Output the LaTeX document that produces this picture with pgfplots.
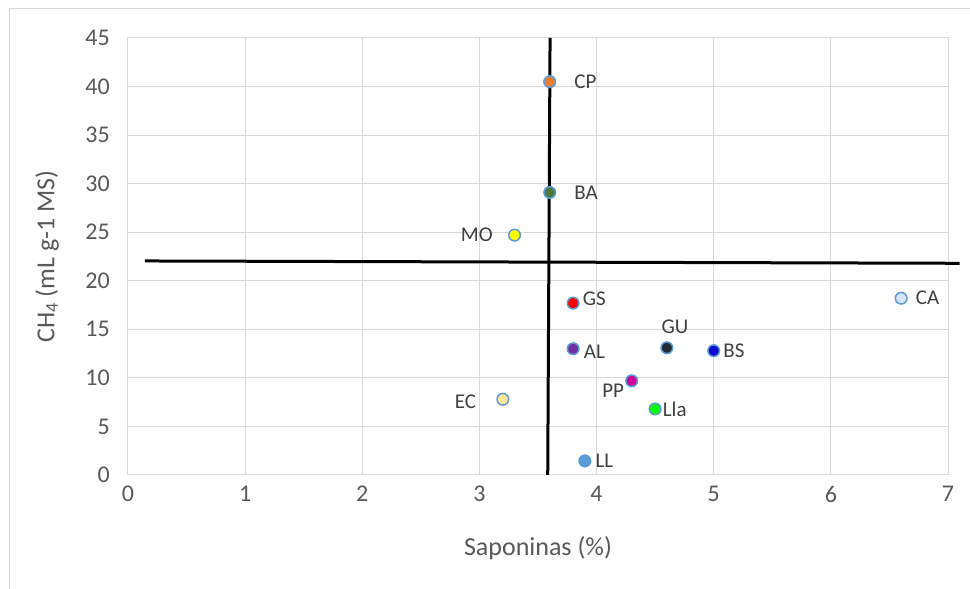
\documentclass[border=0pt]{standalone}
\usepackage{fontspec}
\setmainfont{Carlito}
\usepackage{pgfplots}
\pgfplotsset{compat=1.18}
\definecolor{gridc}{HTML}{D9D9D9}
\definecolor{txt}{HTML}{595959}
\definecolor{lbl}{HTML}{404040}
\definecolor{mk}{HTML}{5B9BD5}
\definecolor{cCP}{HTML}{ED7D31}
\definecolor{cBA}{HTML}{4E7A3A}
\definecolor{cMO}{HTML}{FFFF00}
\definecolor{cGS}{HTML}{FF0000}
\definecolor{cAL}{HTML}{7030A0}
\definecolor{cGU}{HTML}{222A35}
\definecolor{cBS}{HTML}{0A0ACC}
\definecolor{cPP}{HTML}{CC0099}
\definecolor{cLla}{HTML}{00FF00}
\definecolor{cEC}{HTML}{FFE699}
\definecolor{cLL}{HTML}{5B9BD5}
\definecolor{cCA}{HTML}{DAE3F3}
\newcommand{\pt}[6]{%
\addplot[only marks, mark=*, mark size=5.8pt,
  mark options={draw=mk, fill=#3, line width=1.5pt},
  nodes near coords={#4},
  every node near coord/.append style={anchor=#5, inner sep=0pt,
    font=\fontsize{21}{25}\selectfont, text=lbl, #6}]
  coordinates {(#1,#2)};}
\begin{document}
\begin{tikzpicture}
\begin{axis}[name=ax, scale only axis, width=820pt, height=437pt,
  xmin=0, xmax=7, ymin=0, ymax=45,
  xtick={0,1,...,7}, ytick={0,5,...,45},
  grid=major, major grid style={draw=gridc, line width=1pt},
  axis line style={draw=gridc, line width=1pt},
  tick style={draw=none},
  /pgf/number format/assume math mode=true,
  ticklabel style={font=\fontsize{24}{28}\selectfont, text=txt, inner sep=0pt},
  yticklabel style={anchor=east, xshift=-18pt},
  xticklabel style={anchor=north, yshift=-11pt},
  xlabel={Saponinas (\%)}, ylabel={CH\textsubscript{4} (mL g-1 MS)},
  label style={font=\fontsize{26}{30}\selectfont, text=txt},
  xlabel style={at={(axis description cs:0.5,-0.167)}, anchor=center},
  ylabel style={at={(axis description cs:-0.0988,0.5)}, anchor=center},
  clip=false]
\pt{3.6}{40.5}{cCP}{CP}{west}{xshift=24pt}
\pt{3.6}{29.1}{cBA}{BA}{west}{xshift=24pt}
\pt{3.3}{24.7}{cMO}{MO}{east}{xshift=-21pt}
\pt{3.8}{17.7}{cGS}{GS}{west}{xshift=9pt, yshift=4pt}
\pt{3.8}{13.0}{cAL}{AL}{west}{xshift=10pt, yshift=-3pt}
\pt{4.6}{13.1}{cGU}{GU}{center}{xshift=8pt, yshift=21pt}
\pt{5.0}{12.8}{cBS}{BS}{west}{xshift=9pt}
\pt{4.3}{9.7}{cPP}{PP}{east}{xshift=-7pt, yshift=-10pt}
\pt{4.5}{6.8}{cLla}{Lla}{west}{xshift=7pt}
\pt{3.2}{7.8}{cEC}{EC}{east}{xshift=-26pt, yshift=-3pt}
\pt{3.9}{1.45}{cLL}{LL}{west}{xshift=10pt}
\pt{6.6}{18.2}{cCA}{CA}{west}{xshift=14pt}
\addplot[black, line width=3pt, no markers] coordinates {(3.603,45) (3.583,0)};
\addplot[black, line width=3pt, no markers] coordinates {(0.145,22.04) (7.1,21.8)};
\draw[gridc, line width=1pt] (axis description cs:-0.1451,-0.2609) -- (axis description cs:-0.1451,1.0664) -- (axis description cs:1.0268,1.0664);
\end{axis}
\pgfresetboundingbox
\path ([shift={(-128pt,-114pt)}]ax.south west) rectangle ([shift={(22pt,38pt)}]ax.north east);
\end{tikzpicture}
\end{document}
